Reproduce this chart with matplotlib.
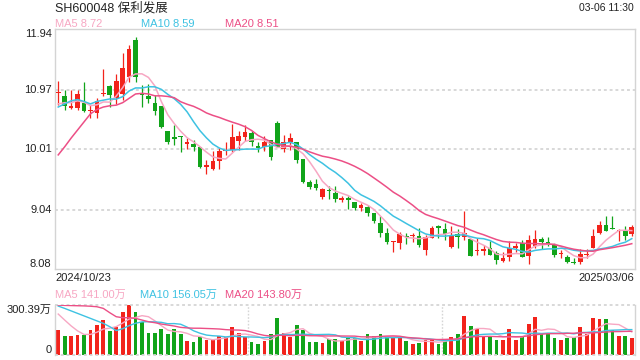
import numpy as np
import matplotlib
matplotlib.use('Agg')
import matplotlib.pyplot as plt
from matplotlib.transforms import blended_transform_factory

plt.rcParams['font.family'] = ['Liberation Sans', 'Noto Sans CJK SC']

# daily candles 2024/10/23 .. 2025/03/06 (90 trading days)
opens = [10.91, 10.86, 10.68, 10.67, 10.76, 10.62, 10.60, 10.90, 11.03, 10.83,
         10.90, 11.18, 11.77, 10.92, 10.86, 10.76, 10.70, 10.31, 10.19, 10.21,
         10.10, 10.10, 10.05, 9.73, 9.70, 9.82, 9.98, 10.00, 10.15, 10.20,
         10.27, 10.06, 10.04, 10.16, 10.44, 10.01, 10.13, 10.13, 9.85, 9.49,
         9.45, 9.24, 9.35, 9.30, 9.20, 9.21, 9.17, 9.06, 9.08, 8.99,
         8.82, 8.66, 8.52, 8.51, 8.61, 8.61, 8.62, 8.39, 8.59, 8.76,
         8.73, 8.44, 8.64, 8.60, 8.57, 8.37, 8.38, 8.42, 8.34, 8.21,
         8.27, 8.43, 8.50, 8.30, 8.46, 8.56, 8.50, 8.48, 8.32, 8.28,
         8.19, 8.20, 8.31, 8.43, 8.66, 8.80, 8.75, 8.69, 8.71, 8.64]
highs = [11.11, 10.97, 10.96, 10.96, 11.09, 10.72, 10.83, 11.30, 11.04, 11.22,
         11.56, 11.69, 11.82, 11.04, 11.06, 10.89, 10.71, 10.31, 10.40, 10.22,
         10.19, 10.16, 10.05, 9.84, 9.99, 10.03, 10.12, 10.42, 10.31, 10.40,
         10.31, 10.12, 10.22, 10.16, 10.46, 10.24, 10.27, 10.13, 9.85, 9.51,
         9.53, 9.38, 9.42, 9.42, 9.26, 9.26, 9.17, 9.15, 9.11, 8.99,
         8.94, 8.75, 8.53, 8.68, 8.66, 8.66, 8.75, 8.63, 8.78, 8.79,
         8.83, 8.77, 8.73, 9.02, 8.57, 8.58, 8.47, 8.54, 8.38, 8.36,
         8.53, 8.50, 8.55, 8.63, 8.71, 8.60, 8.60, 8.50, 8.39, 8.31,
         8.26, 8.41, 8.41, 8.73, 8.85, 8.94, 8.94, 8.73, 8.77, 8.80]
lows = [10.72, 10.64, 10.66, 10.64, 10.61, 10.52, 10.51, 10.86, 10.69, 10.74,
        10.80, 11.10, 11.10, 10.69, 10.75, 10.56, 10.36, 10.09, 10.08, 9.97,
        10.01, 9.99, 9.71, 9.62, 9.67, 9.70, 9.92, 9.97, 10.00, 10.15,
        10.06, 9.96, 9.99, 9.84, 10.04, 9.96, 10.00, 9.79, 9.46, 9.37,
        9.35, 9.21, 9.21, 9.17, 9.17, 9.05, 9.04, 9.02, 8.94, 8.83,
        8.60, 8.48, 8.36, 8.41, 8.48, 8.52, 8.44, 8.31, 8.58, 8.59,
        8.55, 8.42, 8.43, 8.55, 8.29, 8.31, 8.31, 8.31, 8.16, 8.20,
        8.21, 8.36, 8.27, 8.16, 8.43, 8.41, 8.46, 8.27, 8.26, 8.18,
        8.16, 8.16, 8.26, 8.43, 8.64, 8.69, 8.73, 8.54, 8.55, 8.62]
closes = [10.92, 10.71, 10.69, 10.90, 10.62, 10.64, 10.78, 10.92, 10.88, 11.11,
          11.32, 11.62, 11.18, 10.89, 10.82, 10.63, 10.37, 10.12, 10.18, 10.20,
          10.11, 10.04, 9.73, 9.74, 9.82, 9.99, 9.99, 10.20, 10.22, 10.29,
          10.12, 10.03, 10.13, 9.88, 10.04, 10.13, 10.19, 9.84, 9.49, 9.40,
          9.38, 9.37, 9.34, 9.21, 9.21, 9.20, 9.06, 9.11, 8.98, 8.86,
          8.67, 8.52, 8.53, 8.64, 8.60, 8.62, 8.47, 8.60, 8.75, 8.75,
          8.65, 8.63, 8.60, 8.67, 8.30, 8.38, 8.39, 8.31, 8.23, 8.26,
          8.43, 8.44, 8.28, 8.55, 8.57, 8.52, 8.49, 8.31, 8.33, 8.19,
          8.18, 8.32, 8.32, 8.61, 8.79, 8.70, 8.73, 8.70, 8.62, 8.76]
# volume, 万手
volumes = [150, 114, 114, 120, 120, 150, 180, 210, 146, 166,
           258, 300, 258, 200, 134, 134, 156, 126, 156, 126,
           86, 80, 110, 90, 92, 114, 106, 170, 134, 106,
           80, 66, 86, 126, 220, 134, 106, 180, 150, 80,
           78, 74, 94, 94, 86, 106, 100, 86, 126, 114,
           126, 106, 100, 100, 86, 66, 70, 90, 92, 66,
           92, 106, 126, 234, 174, 156, 106, 106, 92, 90,
           156, 90, 114, 186, 226, 126, 130, 100, 92, 100,
           106, 166, 126, 220, 216, 214, 150, 114, 114, 100]

# moving average values before the window is filled
ma5_head = [10.74, 10.76, 10.76, 10.79]
ma10_head = [10.69, 10.74, 10.79, 10.81, 10.78, 10.74, 10.78, 10.80, 10.82]
ma20_head = [9.92, 10.05, 10.19, 10.32, 10.45, 10.58, 10.65, 10.69, 10.71, 10.72,
             10.76, 10.83, 10.90, 10.91, 10.90, 10.87, 10.87, 10.86, 10.84]
vma5_head = [246, 210, 175, 145]
vma10_head = [294, 280, 265, 250, 235, 220, 205, 190, 170]
vma20_head = [300, 298, 297, 296, 295, 293, 290, 280, 254, 230,
              224, 224, 220, 210, 200, 194, 186, 180, 174]

price_ticks = [11.94, 10.97, 10.01, 9.04, 8.08]
vol_max = 300.39

RED = '#f2231b'
GREEN = '#11a41a'
C5 = '#f7a7c3'
C10 = '#3ec2e2'
C20 = '#ec4f86'
TXT = '#222222'
GRID = '#d6d6d6'


def moving_avg(vals, n, head):
    out = list(head)
    for i in range(len(head), len(vals)):
        out.append(np.mean(vals[i - n + 1:i + 1]))
    return out


def fx(px):
    return px / 640


def fy(py):
    return 1 - py / 360


fig = plt.figure(figsize=(6.4, 3.6), dpi=100)
ax = fig.add_axes([fx(55), fy(269.3), 580 / 640, 240 / 360])
axv = fig.add_axes([fx(55), fy(355), 580 / 640, 50 / 360])

n = len(closes)
x = np.arange(n)
o = np.array(opens)
c = np.array(closes)
up = c >= o
colors = [RED if u else GREEN for u in up]

# candles
ax.vlines(x, lows, highs, colors=colors, linewidth=0.9, zorder=2)
body_low = np.minimum(o, c)
body_h = np.maximum(np.abs(c - o), 0.022)
ax.bar(x, body_h, bottom=body_low, width=0.72, color=colors, linewidth=0, zorder=3)

ax.plot(x, moving_avg(closes, 5, ma5_head), color=C5, lw=1.1, zorder=4)
ax.plot(x, moving_avg(closes, 10, ma10_head), color=C10, lw=1.1, zorder=4)
ax.plot(x, moving_avg(closes, 20, ma20_head), color=C20, lw=1.1, zorder=4)

ax.set_xlim(-0.5, n - 0.5)
ax.set_ylim(price_ticks[-1], price_ticks[0])
for v in price_ticks[1:-1]:
    ax.axhline(v, color=GRID, lw=1.3, ls=(0, (1.6, 1.6)), zorder=1)
ax.set_xticks([])
ax.set_yticks([])
for s in ax.spines.values():
    s.set_color('#d4d4d4')
    s.set_linewidth(1.0)

tr = blended_transform_factory(ax.transAxes, ax.transData)
for i, v in enumerate(price_ticks):
    va = 'top' if i == 0 else ('bottom' if i == len(price_ticks) - 1 else 'center')
    ax.text(-0.006, v, f'{v:.2f}', transform=tr, ha='right', va=va,
            fontsize=8, color=TXT)

# volume
axv.bar(x, volumes, width=0.6, color=colors, linewidth=0, zorder=2)
axv.plot(x, moving_avg(volumes, 5, vma5_head), color=C5, lw=1.0, zorder=3)
axv.plot(x, moving_avg(volumes, 10, vma10_head), color=C10, lw=1.0, zorder=3)
axv.plot(x, moving_avg(volumes, 20, vma20_head), color=C20, lw=1.0, zorder=3)
axv.set_xlim(-0.5, n - 0.5)
axv.set_ylim(0, vol_max)
axv.set_xticks([])
axv.set_yticks([])
for side in ['top', 'bottom']:
    axv.spines[side].set_visible(False)
for side in ['left', 'right']:
    axv.spines[side].set_color('#d4d4d4')
    axv.spines[side].set_linewidth(1.0)
axv.axhline(vol_max, color=GRID, lw=1.3, ls=(0, (1.6, 1.6)), clip_on=False)
axv.axhline(0, color=GRID, lw=1.3, ls=(0, (1.6, 1.6)), clip_on=False)
for f in (1 / 3, 2 / 3):
    axv.axvline(f * n - 0.5, color=GRID, lw=1.0, ls=(0, (1.2, 1.2)), zorder=1)
trv = blended_transform_factory(axv.transAxes, axv.transData)
axv.text(-0.006, vol_max, f'{vol_max:.2f}万', transform=trv, ha='right', va='top',
         fontsize=8, color=TXT)
axv.text(-0.006, 0, '0', transform=trv, ha='right', va='bottom', fontsize=8, color=TXT)

# header texts
fig.text(fx(55), fy(8), 'SH600048 保利发展', fontsize=9, color=TXT, va='center')
fig.text(fx(634), fy(8), '03-06 11:30', fontsize=7.5, color=TXT, va='center', ha='right')
fig.text(fx(55), fy(24), 'MA5 8.72', fontsize=8, color=C5, va='center')
fig.text(fx(141), fy(24), 'MA10 8.59', fontsize=8, color=C10, va='center')
fig.text(fx(225), fy(24), 'MA20 8.51', fontsize=8, color=C20, va='center')
fig.text(fx(55), fy(278), '2024/10/23', fontsize=8, color=TXT, va='center')
fig.text(fx(634), fy(278), '2025/03/06', fontsize=8, color=TXT, va='center', ha='right')
fig.text(fx(55), fy(295), 'MA5 141.00万', fontsize=8, color=C5, va='center')
fig.text(fx(140), fy(295), 'MA10 156.05万', fontsize=8, color=C10, va='center')
fig.text(fx(225), fy(295), 'MA20 143.80万', fontsize=8, color=C20, va='center')

fig.savefig('out.png', dpi=100)
